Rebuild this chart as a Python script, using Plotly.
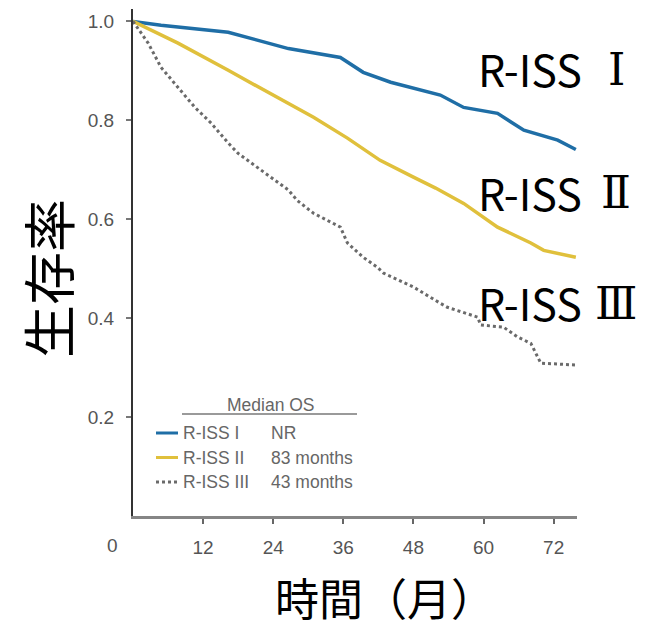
import plotly.graph_objects as go

# ---- data ----
months_I = [0, 4.8, 16.3, 26.6, 35.5, 39.4, 44.1, 52.6, 56.6, 62.4, 66.9, 72.7, 75.8]
surv_I = [1.0, 0.992, 0.978, 0.945, 0.927, 0.897, 0.877, 0.851, 0.826, 0.814, 0.780, 0.760, 0.741]

months_II = [0, 7.7, 16.3, 26.6, 30.9, 36.7, 42.3, 48.0, 51.8, 56.6, 62.4, 68.1, 70.3, 75.8]
surv_II = [1.0, 0.956, 0.901, 0.834, 0.806, 0.764, 0.719, 0.685, 0.663, 0.632, 0.584, 0.552, 0.537, 0.523]

months_III = [0, 2.6, 4.8, 7.7, 10.6, 13.4, 16.3, 18.0, 21.9, 24.3, 26.6, 28.1, 30.9, 35.5, 36.7,
              39.4, 41.8, 42.9, 48.0, 52.6, 53.8, 59.0, 59.5, 63.4, 65.8, 68.1, 69.8, 76.1]
surv_III = [1.0, 0.956, 0.907, 0.867, 0.826, 0.794, 0.754, 0.733, 0.699, 0.679, 0.659, 0.638, 0.612, 0.584, 0.552,
            0.523, 0.503, 0.491, 0.463, 0.430, 0.422, 0.402, 0.386, 0.382, 0.362, 0.349, 0.309, 0.305]

series_names = ["R-ISS I", "R-ISS II", "R-ISS III"]
median_os = ["NR", "83 months", "43 months"]
side_prefix = "R-ISS"
side_numerals = ["\u2160", "\u2161", "\u2162"]
x_ticks = [12, 24, 36, 48, 60, 72]
y_ticks = [0.2, 0.4, 0.6, 0.8, 1.0]
y_ticklabels = ["0.2", "0.4", "0.6", "0.8", "1.0"]

colors = ["#1f6ea6", "#e0c03c", "#6a6a6a"]
dashes = ["solid", "solid", "dot"]

# page has an 8px body margin; work in window pixels and shift
OFF = 8
W, H = 646 - OFF, 631 - OFF
L, R, T, B = 133 - OFF, 69, 9 - OFF, 115


def px(x):
    return (x - OFF - L) / (W - L - R)


def py(y):
    return (H - B - (y - OFF)) / (H - T - B)


fig = go.Figure()
for xs, ys, name, c, d in zip([months_I, months_II, months_III],
                              [surv_I, surv_II, surv_III],
                              series_names, colors, dashes):
    fig.add_trace(go.Scatter(x=xs, y=ys, mode="lines", name=name,
                             line=dict(color=c, width=3.5 if d == "solid" else 3, dash=d),
                             showlegend=False))

tickfont = dict(family="Liberation Sans, Arial", size=19, color="#555555")

fig.update_layout(
    width=W, height=H,
    margin=dict(l=L, r=R, t=T, b=B, autoexpand=False),
    paper_bgcolor="white", plot_bgcolor="white",
    xaxis=dict(range=[0, 76], tickvals=x_ticks, ticktext=[str(v) for v in x_ticks],
               showgrid=False, zeroline=False, showline=True, linecolor="#858585", linewidth=3,
               ticks="outside", ticklen=5, tickwidth=2, tickcolor="#666666",
               tickfont=tickfont, ticklabelstandoff=7),
    yaxis=dict(range=[0, 1.025], tickvals=y_ticks, ticktext=y_ticklabels,
               showgrid=False, zeroline=False, showline=True, linecolor="#333333", linewidth=2,
               ticks="outside", ticklen=5, tickwidth=1.5, tickcolor="#777777",
               tickfont=tickfont, ticklabelstandoff=8),
)

ann = []
# origin "0" label
ann.append(dict(x=px(112), y=py(545), xref="paper", yref="paper", text="0", showarrow=False,
                font=tickfont, xanchor="center", yanchor="middle"))
# axis titles
ann.append(dict(x=px(47), y=py(279), xref="paper", yref="paper", text="生存率", showarrow=False,
                textangle=-90, font=dict(family="Noto Sans CJK JP", size=53, color="black"),
                xanchor="center", yanchor="middle"))
ann.append(dict(x=px(385), y=py(597), xref="paper", yref="paper", text="時間（月）", showarrow=False,
                font=dict(family="Noto Sans CJK JP", size=44, color="black"),
                xanchor="center", yanchor="middle"))
# right side labels
for num, yy in zip(side_numerals, [68, 192, 302]):
    ann.append(dict(x=px(476), y=py(yy), xref="paper", yref="paper", text=side_prefix, showarrow=False,
                    font=dict(family="Noto Sans CJK JP", size=43, color="black"),
                    xanchor="left", yanchor="middle"))
    ann.append(dict(x=px(616), y=py(yy + 1), xref="paper", yref="paper", text=num, showarrow=False,
                    font=dict(family="DejaVu Serif", size=44, color="black"),
                    xanchor="center", yanchor="middle"))

# inset legend
legfont = dict(family="Liberation Sans, Arial", size=17.5, color="#666666")
ann.append(dict(x=px(271), y=py(405), xref="paper", yref="paper", text="Median OS", showarrow=False,
                font=legfont, xanchor="center", yanchor="middle"))
shapes = [dict(type="line", xref="paper", yref="paper", x0=px(182), x1=px(357), y0=py(414), y1=py(414),
               line=dict(color="#9a9a9a", width=2))]
for i, (name, med, c, d) in enumerate(zip(series_names, median_os, colors, dashes)):
    yy = 433 + i * 24.5
    shapes.append(dict(type="line", xref="paper", yref="paper", x0=px(156), x1=px(178),
                       y0=py(yy), y1=py(yy), line=dict(color=c, width=3, dash=d)))
    ann.append(dict(x=px(181), y=py(yy), xref="paper", yref="paper", text=name, showarrow=False,
                    font=legfont, xanchor="left", yanchor="middle"))
    ann.append(dict(x=px(269), y=py(yy), xref="paper", yref="paper", text=med, showarrow=False,
                    font=legfont, xanchor="left", yanchor="middle"))

fig.update_layout(annotations=ann, shapes=shapes)
fig.write_html("out.html")
